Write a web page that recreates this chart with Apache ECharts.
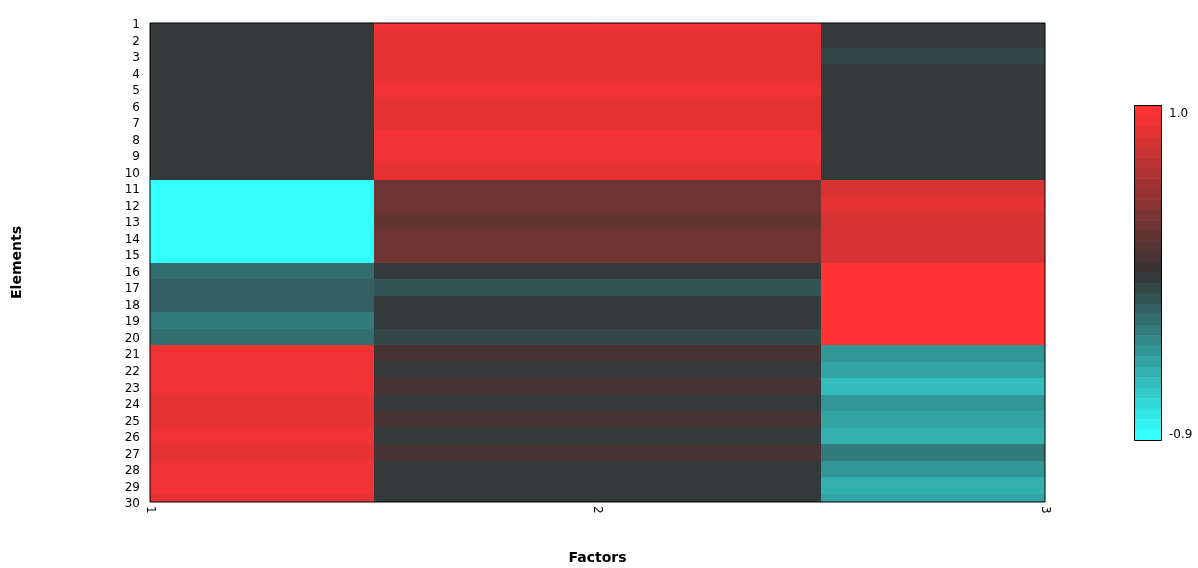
<!DOCTYPE html>
<html><head><meta charset="utf-8">
<script src="https://cdn.jsdelivr.net/npm/echarts@6/dist/echarts.min.js"></script>
<style>html,body{margin:0;padding:0;background:#fff}#c{width:1198px;height:568px}</style>
</head><body><div id="c"></div>
<script>
// ---- data ----
const factors = [1, 2, 3];
const elements = [1,2,3,4,5,6,7,8,9,10,11,12,13,14,15,16,17,18,19,20,21,22,23,24,25,26,27,28,29,30];
const factor1 = [0.02,0.02,0.02,0.02,0.02,0.02,0.02,0.02,0.02,0.02,
                 -0.87,-0.87,-0.87,-0.87,-0.87,-0.22,-0.16,-0.16,-0.28,-0.22,
                 0.91,0.91,0.91,0.85,0.85,0.91,0.85,0.91,0.91,0.85];
const factor2 = [0.91,0.85,0.85,0.85,0.91,0.85,0.85,0.91,0.91,0.85,
                 0.33,0.33,0.27,0.33,0.33,0.02,-0.10,0.02,0.02,-0.04,
                 0.14,0.02,0.14,0.02,0.14,0.02,0.14,0.02,0.02,0.02];
const factor3 = [0.02,0.02,-0.04,0.02,0.02,0.02,0.02,0.02,0.02,0.02,
                 0.79,0.85,0.79,0.79,0.79,0.97,0.97,0.97,0.97,0.97,
                 -0.39,-0.45,-0.57,-0.39,-0.45,-0.51,-0.28,-0.39,-0.51,-0.45];
const colorMin = -0.9, colorMax = 1.0;
const legendLabels = ['1.0', '-0.9'];
const xName = 'Factors', yName = 'Elements';

// ---- build ----
const columns = [factor1, factor2, factor3];
const data = [];
columns.forEach((col, ci) => col.forEach((v, ri) => data.push([factors[ci], elements[ri], v])));

const steps = 32;
const stepSize = (colorMax - colorMin) / steps;
function stepColor(k) {
  const mid = (steps - 1) / 2;
  let r = 51, g = 51, b = 51;
  if (k > mid) { const t = (k - mid) / mid; r = Math.round(51 + 204 * t); }
  else { const t = (mid - k) / mid; g = b = Math.round(51 + 204 * t); }
  return 'rgb(' + r + ',' + g + ',' + b + ')';
}
const pieces = [];
for (let k = steps - 1; k >= 0; k--) {
  pieces.push({
    min: colorMin + k * stepSize,
    max: colorMin + (k + 1) * stepSize,
    color: stepColor(k)
  });
}

function renderItem(params, api) {
  const x = api.value(0), y = api.value(1);
  const p0 = api.coord([x - 0.5, y - 0.5]);
  const p1 = api.coord([x + 0.5, y + 0.5]);
  const cs = params.coordSys;
  const rect = echarts.graphic.clipRectByRect({
    x: Math.min(p0[0], p1[0]), y: Math.min(p0[1], p1[1]),
    width: Math.abs(p1[0] - p0[0]), height: Math.abs(p1[1] - p0[1])
  }, { x: cs.x, y: cs.y, width: cs.width, height: cs.height });
  if (!rect) return null;
  const x0 = Math.round(rect.x), y0 = Math.round(rect.y);
  const x1 = Math.round(rect.x + rect.width), y1 = Math.round(rect.y + rect.height);
  return { type: 'rect', shape: { x: x0, y: y0, width: x1 - x0, height: y1 - y0 },
           style: { fill: api.visual('color') } };
}

const FONT = 'DejaVu Sans';
const legendH = 335;
const chart = echarts.init(document.getElementById('c'));
chart.setOption({
  backgroundColor: '#fff',
  animation: false,
  textStyle: { fontFamily: FONT },
  grid: { left: 150, right: 153, top: 23, bottom: 66, outerBoundsMode: 'none', containLabel: false,
          show: true, borderColor: '#000', borderWidth: 1, backgroundColor: 'transparent', z: 10 },
  xAxis: {
    type: 'value', min: 1, max: 3, interval: 1,
    name: xName, nameLocation: 'middle', nameGap: 49,
    nameTextStyle: { fontFamily: FONT, fontSize: 14, fontWeight: 'bold', color: '#000' },
    axisLine: { show: false }, axisTick: { show: false }, splitLine: { show: false },
    axisLabel: { rotate: -90, fontFamily: FONT, fontSize: 12, color: '#000', margin: 4 }
  },
  yAxis: {
    type: 'value', min: 1, max: 30, interval: 1, inverse: true,
    name: yName, nameLocation: 'middle', nameGap: 126,
    nameTextStyle: { fontFamily: FONT, fontSize: 14, fontWeight: 'bold', color: '#000' },
    axisLine: { show: false }, axisTick: { show: false }, splitLine: { show: false },
    axisLabel: {
      fontFamily: FONT, fontSize: 12, color: '#000', margin: 10,
      formatter: '{t|{value}}',
      rich: { t: { fontFamily: FONT, fontSize: 12, color: '#000', padding: [4, 0, 0, 0] } }
    }
  },
  visualMap: {
    type: 'piecewise', dimension: 2, seriesIndex: 0,
    orient: 'vertical', left: 1134, top: 105, padding: 0,
    itemWidth: 27, itemHeight: 11, itemGap: legendH / steps - 11,
    itemSymbol: 'rect', selectedMode: false, hoverLink: false,
    showLabel: false, pieces: pieces
  },
  graphic: [
    { type: 'rect', left: 1134, top: 105, z: 100,
      shape: { width: 27, height: legendH },
      style: { fill: 'transparent', stroke: '#000', lineWidth: 1 } },
    { type: 'text', left: 1169, top: 108, z: 100,
      style: { text: legendLabels[0], fontFamily: FONT, fontSize: 12, fill: '#000' } },
    { type: 'text', left: 1169, top: 429, z: 100,
      style: { text: legendLabels[1], fontFamily: FONT, fontSize: 12, fill: '#000' } }
  ],
  series: [{
    type: 'custom', renderItem: renderItem, data: data,
    encode: { x: 0, y: 1 }, clip: true
  }]
});
</script></body></html>
